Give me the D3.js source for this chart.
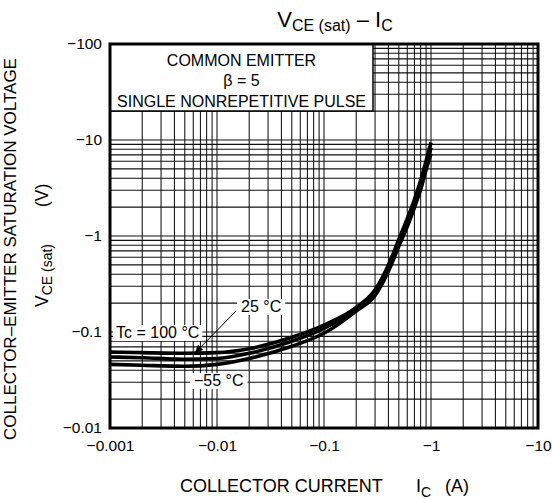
<!DOCTYPE html>
<html><head><meta charset="utf-8">
<script src="https://cdn.jsdelivr.net/npm/d3@7"></script>
<style>body{margin:0;background:#fff}svg{display:block}</style>
</head><body>
<script>
// ---- data (collector current in A, VCE(sat) in V) ----
const current = [-0.001,-0.002,-0.005,-0.01,-0.02,-0.05,-0.1,-0.2,-0.3,-0.4,-0.5,-0.6,-0.7,-0.8,-0.9,-1.0];
const vce100  = [-0.062,-0.061,-0.060,-0.061,-0.067,-0.088,-0.118,-0.18,-0.275,-0.50,-0.92,-1.52,-2.4,-3.8,-6.1,-9.4];
const vce25   = [-0.055,-0.054,-0.052,-0.053,-0.060,-0.080,-0.109,-0.172,-0.255,-0.46,-0.85,-1.38,-2.2,-3.4,-5.4,-8.3];
const vceM55  = [-0.046,-0.045,-0.044,-0.046,-0.053,-0.071,-0.097,-0.165,-0.24,-0.43,-0.78,-1.25,-1.98,-3.05,-4.9,-7.2];
const seriesNames = ["Tc = 100 °C","25 °C","−55 °C"];
const xTickValues = [-0.001,-0.01,-0.1,-1,-10];
const xTickLabels = ["−0.001","−0.01","−0.1","−1","−10"];
const yTickValues = [-0.01,-0.1,-1,-10,-100];
const yTickLabels = ["−0.01","−0.1","−1","−10","−100"];
const boxLines = ["COMMON EMITTER","β = 5","SINGLE NONREPETITIVE PULSE"];

const W = 552, H = 499;
const L = 110, R = 538, T = 44, B = 428;
const FONT = "'Liberation Sans', Arial, Helvetica, sans-serif";

const svg = d3.select("body").append("svg").attr("width", W).attr("height", H)
  .style("font-family", FONT);
svg.append("rect").attr("width", W).attr("height", H).attr("fill", "#fff");

const x = d3.scaleLog().domain([-0.001, -10]).range([L, R]);
const y = d3.scaleLog().domain([-0.01, -100]).range([B, T]);

// grid
const grid = svg.append("g").attr("stroke", "#111").attr("stroke-width", 1.05);
grid.selectAll("line.v").data(x.ticks()).join("line").attr("class","v")
  .attr("x1", d => x(d)).attr("x2", d => x(d)).attr("y1", T).attr("y2", B);
grid.selectAll("line.h").data(y.ticks()).join("line").attr("class","h")
  .attr("y1", d => y(d)).attr("y2", d => y(d)).attr("x1", L).attr("x2", R);

// condition box
const bx0 = L, bx1 = 373, by0 = T, by1 = 111;
svg.append("rect").attr("x", bx0).attr("y", by0).attr("width", bx1 - bx0).attr("height", by1 - by0)
  .attr("fill", "#fff").attr("stroke", "#000").attr("stroke-width", 1.5);
svg.append("g").selectAll("text").data(boxLines).join("text")
  .attr("x", (bx0 + bx1) / 2).attr("y", (d, i) => 66 + i * 20.3)
  .attr("text-anchor", "middle").attr("font-size", 16).text(d => d);

// curves
const series = [vce100, vce25, vceM55].map(v => current.map((c, i) => [c, v[i]]));
const line = d3.line().x(d => x(d[0])).y(d => y(d[1])).curve(d3.curveMonotoneX);
svg.append("g").selectAll("path").data(series).join("path")
  .attr("d", line).attr("fill", "none").attr("stroke", "#000")
  .attr("stroke-width", 3.6).attr("stroke-linejoin", "round");

// labels with white backgrounds
function label(txt, xs, yb, pad) {
  const t = svg.append("text").attr("x", xs).attr("y", yb).attr("font-size", 16).text(txt);
  const bb = t.node().getBBox();
  svg.insert("rect", () => t.node()).attr("x", bb.x - pad).attr("y", bb.y + 1)
    .attr("width", bb.width + 2 * pad).attr("height", bb.height - 1).attr("fill", "#fff");
}
label(seriesNames[0], 116, 338, 3);
label(seriesNames[1], 241, 312, 4);
label(seriesNames[2], 194, 386, 4);

// arrow for 25 °C
const defs = svg.append("defs");
defs.append("marker").attr("id", "ah").attr("viewBox", "0 0 10 10").attr("refX", 9).attr("refY", 5)
  .attr("markerWidth", 9).attr("markerHeight", 9).attr("markerUnits", "userSpaceOnUse").attr("orient", "auto")
  .append("path").attr("d", "M0,1 L10,5 L0,9 z").attr("fill", "#000");
svg.append("line").attr("x1", 236).attr("y1", 311).attr("x2", 195).attr("y2", 353)
  .attr("stroke", "#000").attr("stroke-width", 1).attr("marker-end", "url(#ah)");

// frame
svg.append("rect").attr("x", L).attr("y", T).attr("width", R - L).attr("height", B - T)
  .attr("fill", "none").attr("stroke", "#000").attr("stroke-width", 3);

// axes (labels only)
const xAxis = d3.axisBottom(x).tickValues(xTickValues).tickFormat((d, i) => xTickLabels[i]).tickSize(0).tickPadding(0);
const gx = svg.append("g").attr("transform", `translate(0,${B + 12})`).call(xAxis);
gx.select(".domain").remove();
gx.selectAll("text").attr("font-size", 15.5).attr("font-family", FONT).attr("fill", "#000").attr("dy", "0.71em");

const yAxis = d3.axisLeft(y).tickValues(yTickValues).tickFormat((d, i) => yTickLabels[i]).tickSize(0).tickPadding(0);
const gy = svg.append("g").attr("transform", `translate(${L - 8},0)`).call(yAxis);
gy.select(".domain").remove();
gy.selectAll("text").attr("font-size", 15.5).attr("font-family", FONT).attr("fill", "#000");

// title
const title = svg.append("text").attr("x", 335).attr("y", 27).attr("text-anchor", "middle").attr("font-size", 22);
title.append("tspan").text("V");
title.append("tspan").attr("font-size", 16).attr("dy", 4).text("CE (sat)");
title.append("tspan").attr("dy", -4).text(" – I");
title.append("tspan").attr("font-size", 16).attr("dy", 4).text("C");

// x axis title
svg.append("text").attr("x", 180).attr("y", 492).attr("font-size", 18).text("COLLECTOR CURRENT");
const xi = svg.append("text").attr("x", 416).attr("y", 492).attr("font-size", 18);
xi.append("tspan").text("I");
xi.append("tspan").attr("font-size", 14).attr("dy", 5).text("C");
svg.append("text").attr("x", 445).attr("y", 492).attr("font-size", 18).text("(A)");

// y axis title
svg.append("text").attr("transform", "translate(15.5,249) rotate(-90)").attr("text-anchor", "middle")
  .attr("font-size", 17).text("COLLECTOR–EMITTER SATURATION VOLTAGE");
const yl = svg.append("text").attr("transform", "translate(48,307) rotate(-90)").attr("font-size", 17.5);
yl.append("tspan").text("V");
yl.append("tspan").attr("font-size", 14).attr("dy", 4).text("CE (sat)");
svg.append("text").attr("transform", "translate(48,207) rotate(-90)").attr("font-size", 17.5).text("(V)");
</script>
</body></html>
